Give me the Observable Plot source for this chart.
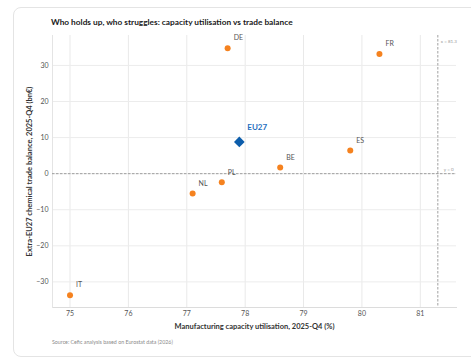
<!DOCTYPE html>
<html>
<head>
<meta charset="utf-8">
<script src="https://cdn.jsdelivr.net/npm/d3@7"></script>
<script src="https://cdn.jsdelivr.net/npm/@observablehq/plot@0.6"></script>
<style>
  html, body { margin: 0; padding: 0; background: #fff; font-family: Lato, sans-serif; }
  #page { position: relative; width: 471px; height: 357px; overflow: hidden; }
  .card { position: absolute; left: 13px; top: 7px; width: 500px; height: 348px;
          border: 1px solid #e4e4e4; border-radius: 8px; background: #fff; }
  .title { position: absolute; left: 51px; top: 17px; font-weight: 700; font-size: 8.3px; color: #1a1a1a; white-space: nowrap; }
  .caption { position: absolute; left: 52px; top: 339px; font-size: 5.3px; color: #8a8a8a; white-space: nowrap; }
  #chart { position: absolute; left: 0; top: 0; }
</style>
</head>
<body>
<div id="page">
  <div class="card"></div>
  <div class="title">Who holds up, who struggles: capacity utilisation vs trade balance</div>
  <div id="chart"></div>
  <div class="caption">Source: Cefic analysis based on Eurostat data (2026)</div>
</div>
<script>
// Member states: capacity utilisation (%) and extra-EU27 chemical trade balance (bn€)
const countries   = ["DE", "FR", "ES", "BE", "PL", "NL", "IT"];
const utilisation = [77.7, 80.3, 79.8, 78.6, 77.6, 77.1, 75.0];
const balance     = [34.8, 33.2, 6.4, 1.7, -2.4, -5.5, -33.7];

// EU aggregate
const euLabel = "EU27";
const euUtilisation = 77.9;
const euBalance = 8.8;

// Reference levels
const refX = 81.3;
const refY = 0;

const xTicks = [75, 76, 77, 78, 79, 80, 81];
const yTicks = [-30, -20, -10, 0, 10, 20, 30];

const points = countries.map((c, i) => ({country: c, x: utilisation[i], y: balance[i]}));
const eu = [{country: euLabel, x: euUtilisation, y: euBalance}];

const orange = "#f5821f";
const blue = "#0c5dab";

const chart = Plot.plot({
  width: 471,
  height: 335,
  marginLeft: 52,
  marginRight: 15,
  marginTop: 35,
  marginBottom: 28,
  style: {fontFamily: "Lato, sans-serif", fontSize: "7px", color: "#555", background: "transparent"},
  x: {domain: [74.7, 81.62], ticks: xTicks, tickFormat: d3.format("d"), tickSize: 0, tickPadding: 4,
      label: "Manufacturing capacity utilisation, 2025-Q4 (%)", labelAnchor: "center", labelArrow: "none", labelOffset: 21},
  y: {domain: [-37.1, 38.3], ticks: yTicks, tickSize: 0, tickPadding: 4,
      label: "Extra-EU27 chemical trade balance, 2025-Q4 (bn€)", labelAnchor: "center", labelArrow: "none", labelOffset: 26},
  marks: [
    Plot.gridX(xTicks, {stroke: "#e9e9e9", strokeOpacity: 1}),
    Plot.gridY(yTicks, {stroke: "#ececec", strokeOpacity: 1}),
    Plot.frame({anchor: "bottom", stroke: "#dcdcdc"}),
    Plot.frame({anchor: "left", stroke: "#e4e4e4"}),
    Plot.ruleY([refY], {stroke: "#8a8a8a", strokeDasharray: "2.5,1.5", strokeWidth: 0.8}),
    Plot.ruleX([refX], {stroke: "#8a8a8a", strokeDasharray: "2.5,1.5", strokeWidth: 0.8}),
    Plot.text([`y = ${refY}`], {y: [refY], frameAnchor: "right", textAnchor: "end", dx: -3, dy: -4, fontSize: 4.5, fill: "#9a9a9a"}),
    Plot.text([`x = ${refX}`], {x: [refX], frameAnchor: "top", textAnchor: "start", dx: 3, dy: 4, fontSize: 4.5, fill: "#9a9a9a"}),
    Plot.dot(points, {x: "x", y: "y", r: 3, fill: orange, stroke: "none"}),
    Plot.text(points, {x: "x", y: "y", text: "country", textAnchor: "start", dx: 6, dy: -10, fontSize: 7, fill: "#555"}),
    Plot.dot(eu, {x: "x", y: "y", r: 4.8, symbol: "diamond2", fill: blue, stroke: "none"}),
    Plot.text(eu, {x: "x", y: "y", text: "country", textAnchor: "start", dx: 8, dy: -14, fontSize: 8, fontWeight: "bold", fill: "#1f6fc0"})
  ]
});

// axis ticks and titles
chart.querySelectorAll("[aria-label='x-axis tick label'], [aria-label='y-axis tick label']").forEach(g => {
  g.setAttribute("font-size", "7px");
  g.setAttribute("fill", "#555");
});
chart.querySelectorAll("[aria-label='x-axis label'], [aria-label='y-axis label']").forEach(g => {
  g.setAttribute("font-size", "7.5px");
  g.setAttribute("font-weight", "700");
  g.setAttribute("fill", "#333");
});

document.getElementById("chart").appendChild(chart);
</script>
</body>
</html>
